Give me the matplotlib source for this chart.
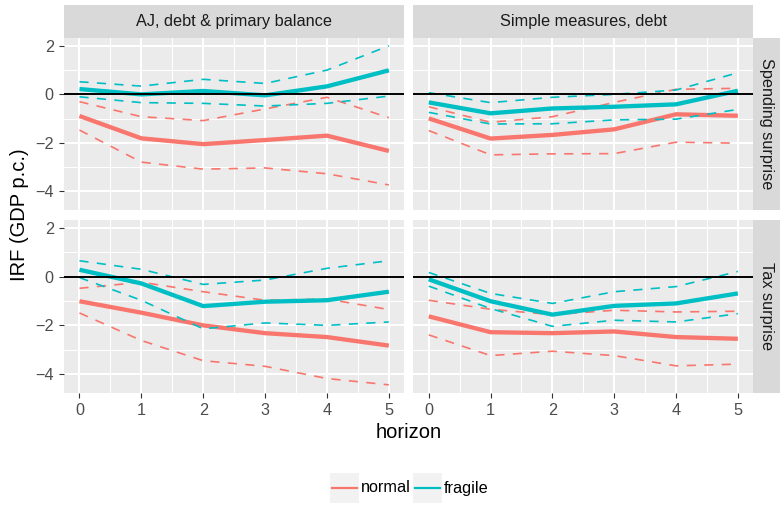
import numpy as np
import matplotlib.pyplot as plt
from matplotlib.patches import Rectangle
from matplotlib.lines import Line2D

plt.rcParams['font.family'] = ['Liberation Sans', 'DejaVu Sans']

horizon = [0, 1, 2, 3, 4, 5]
identifications = ['AJ, debt & primary balance', 'Simple measures, debt']
shocks = ['Spending surprise', 'Tax surprise']
regimes = ['normal', 'fragile']
colors = {'normal': '#F8766D', 'fragile': '#00BFC4'}

# AJ identification, spending surprise
aj_spend_normal = [-0.89, -1.81, -2.05, -1.88, -1.70, -2.33]
aj_spend_normal_lo = [-1.47, -2.79, -3.08, -3.03, -3.27, -3.73]
aj_spend_normal_hi = [-0.30, -0.92, -1.08, -0.60, -0.12, -0.96]
aj_spend_fragile = [0.22, 0.00, 0.14, -0.04, 0.33, 0.99]
aj_spend_fragile_lo = [-0.10, -0.34, -0.37, -0.48, -0.37, -0.07]
aj_spend_fragile_hi = [0.52, 0.34, 0.62, 0.45, 1.00, 2.00]

# simple measures, spending surprise
sm_spend_normal = [-0.99, -1.82, -1.67, -1.44, -0.82, -0.88]
sm_spend_normal_lo = [-1.49, -2.49, -2.45, -2.44, -1.97, -2.01]
sm_spend_normal_hi = [-0.51, -1.15, -0.92, -0.33, 0.21, 0.25]
sm_spend_fragile = [-0.33, -0.78, -0.58, -0.51, -0.41, 0.15]
sm_spend_fragile_lo = [-0.74, -1.22, -1.21, -1.05, -1.02, -0.62]
sm_spend_fragile_hi = [0.07, -0.34, -0.12, 0.00, 0.18, 0.89]

# AJ identification, tax surprise
aj_tax_normal = [-1.01, -1.48, -2.00, -2.32, -2.48, -2.83]
aj_tax_normal_lo = [-1.49, -2.62, -3.45, -3.68, -4.18, -4.44]
aj_tax_normal_hi = [-0.48, -0.23, -0.62, -0.97, -0.92, -1.35]
aj_tax_fragile = [0.28, -0.28, -1.21, -1.03, -0.97, -0.62]
aj_tax_fragile_lo = [-0.04, -0.97, -2.14, -1.90, -2.00, -1.86]
aj_tax_fragile_hi = [0.65, 0.30, -0.32, -0.14, 0.34, 0.65]

# simple measures, tax surprise
sm_tax_normal = [-1.63, -2.28, -2.32, -2.25, -2.48, -2.55]
sm_tax_normal_lo = [-2.39, -3.24, -3.06, -3.24, -3.66, -3.59]
sm_tax_normal_hi = [-0.97, -1.34, -1.56, -1.38, -1.45, -1.42]
sm_tax_fragile = [-0.11, -1.01, -1.56, -1.20, -1.10, -0.69]
sm_tax_fragile_lo = [-0.39, -1.31, -2.04, -1.79, -1.86, -1.52]
sm_tax_fragile_hi = [0.17, -0.69, -1.10, -0.62, -0.41, 0.21]

irf = {
    (0, 0, 'normal'): (aj_spend_normal, aj_spend_normal_lo, aj_spend_normal_hi),
    (0, 0, 'fragile'): (aj_spend_fragile, aj_spend_fragile_lo, aj_spend_fragile_hi),
    (0, 1, 'normal'): (sm_spend_normal, sm_spend_normal_lo, sm_spend_normal_hi),
    (0, 1, 'fragile'): (sm_spend_fragile, sm_spend_fragile_lo, sm_spend_fragile_hi),
    (1, 0, 'normal'): (aj_tax_normal, aj_tax_normal_lo, aj_tax_normal_hi),
    (1, 0, 'fragile'): (aj_tax_fragile, aj_tax_fragile_lo, aj_tax_fragile_hi),
    (1, 1, 'normal'): (sm_tax_normal, sm_tax_normal_lo, sm_tax_normal_hi),
    (1, 1, 'fragile'): (sm_tax_fragile, sm_tax_fragile_lo, sm_tax_fragile_hi),
}

W, H = 781, 505
fig = plt.figure(figsize=(W / 100, H / 100), dpi=100)


def box(x0, y0, x1, y1):
    # pixel box (top-left origin) -> figure fraction
    return [x0 / W, 1 - y1 / H, (x1 - x0) / W, (y1 - y0) / H]


col_x = [(64, 404.3), (413.3, 753.3)]
row_y = [(38, 210), (220, 392.7)]

# shared y range, ggplot style 5% expansion
all_vals = np.concatenate([np.concatenate(v) for v in irf.values()])
ymin, ymax = all_vals.min(), all_vals.max()
pad = 0.05 * (ymax - ymin)

tick_kw = dict(colors='#333333', labelcolor='#4D4D4D', length=3.8, width=0.8,
               labelsize=11.7)

for r in range(2):
    for c in range(2):
        ax = fig.add_axes(box(col_x[c][0], row_y[r][0], col_x[c][1], row_y[r][1]))
        ax.set_facecolor('#EBEBEB')
        for s in ax.spines.values():
            s.set_visible(False)
        ax.set_xticks(horizon)
        ax.set_yticks([-4, -2, 0, 2])
        ax.set_yticklabels(['\u22124', '\u22122', '0', '2'])
        ax.set_xticks([-0.5 + i for i in range(7)], minor=True)
        ax.set_yticks([-5, -3, -1, 1, 3], minor=True)
        ax.set_xlim(-0.25, 5.25)
        ax.set_ylim(ymin - pad, ymax + pad)
        ax.grid(which='major', color='white', lw=1.45)
        ax.grid(which='minor', color='white', lw=0.72)
        ax.set_axisbelow(True)
        ax.tick_params(which='minor', length=0)
        ax.tick_params(which='major', **tick_kw)
        if c == 1:
            ax.tick_params(axis='y', left=False, labelleft=False)
        if r == 0:
            ax.tick_params(axis='x', bottom=False, labelbottom=False)

        for reg in regimes:
            est, lo, hi = irf[(r, c, reg)]
            ax.plot(horizon, est, color=colors[reg], lw=3.1, solid_capstyle='butt')
            for band in (lo, hi):
                ax.plot(horizon, band, color=colors[reg], lw=1.2,
                        dashes=(5.5, 5))
        ax.axhline(0, color='black', lw=1.4, zorder=5)

        # facet strips
        if r == 0:
            sx = fig.add_axes(box(col_x[c][0], 5, col_x[c][1], 38))
            sx.set_facecolor('#D9D9D9')
            sx.set_xticks([])
            sx.set_yticks([])
            for s in sx.spines.values():
                s.set_visible(False)
            sx.text(0.5, 0.5, identifications[c], ha='center', va='center',
                    fontsize=11.7, color='#1A1A1A', transform=sx.transAxes)
        if c == 1:
            sy = fig.add_axes(box(753.3, row_y[r][0], 780, row_y[r][1]))
            sy.set_facecolor('#D9D9D9')
            sy.set_xticks([])
            sy.set_yticks([])
            for s in sy.spines.values():
                s.set_visible(False)
            sy.text(0.5, 0.5, shocks[r], ha='center', va='center', rotation=-90,
                    fontsize=11.7, color='#1A1A1A', transform=sy.transAxes)

fig.text(20 / W, 1 - 215 / H, 'IRF (GDP p.c.)', rotation=90, ha='center',
         va='center', fontsize=14.5, color='black')
fig.text(408.5 / W, 1 - 432 / H, 'horizon', ha='center', va='center',
         fontsize=14.5, color='black')

# legend at the bottom, ggplot style keys
lg = fig.add_axes(box(330, 473, 500, 503))
lg.set_xlim(0, 170)
lg.set_ylim(30, 0)
lg.axis('off')
key_x = [0, 83]
for reg, kx in zip(regimes, key_x):
    lg.add_patch(Rectangle((kx, 0), 29, 30, color='#F2F2F2', lw=0))
    lg.add_line(Line2D([kx + 2, kx + 27], [15, 15], color=colors[reg], lw=1.6))
    lg.text(kx + 31, 15, reg, ha='left', va='center', fontsize=11.7,
            color='black')

fig.savefig('out.png', dpi=100)
